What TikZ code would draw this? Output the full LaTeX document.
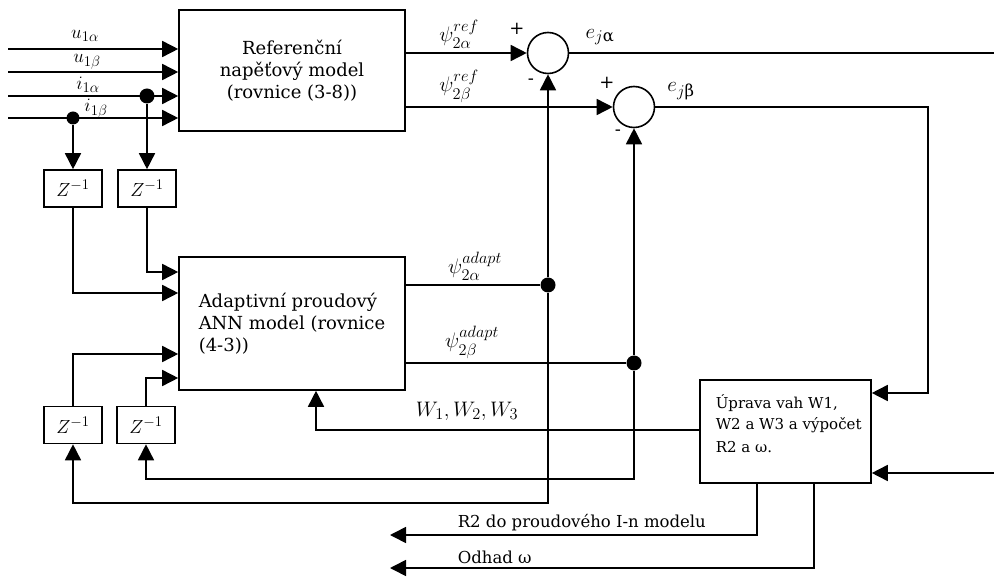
\RequirePackage{fix-cm}
\documentclass[tikz,border=0pt]{standalone}
\usepackage{amsmath}
\usepackage{fontspec}
\setmainfont{DejaVu Serif}
\renewcommand{\defaultscriptratio}{.78}
\usetikzlibrary{arrows.meta}

\begin{document}
\begin{tikzpicture}[x=1pt,y=-1pt,
  line width=1.6pt,
  arr/.style={-{Triangle[length=16pt,width=16pt]}},
  blk/.style={draw, rectangle, inner sep=0pt, font=\fontsize{18}{22}\selectfont},
  zbox/.style={draw, rectangle, inner sep=0pt, minimum width=58pt, minimum height=37pt, font=\fontsize{19}{22}\selectfont},
  sumc/.style={draw, circle, minimum size=41pt, inner sep=0pt},
  dot/.style={fill, circle, minimum size=15pt, inner sep=0pt},
  lbl/.style={inner sep=0pt, font=\fontsize{21}{22}\selectfont},
  inl/.style={inner sep=0pt, font=\fontsize{19}{22}\selectfont},
  sgn/.style={inner sep=0pt, font=\fontsize{18}{22}\selectfont},
  sml/.style={inner sep=0pt, font=\fontsize{16.5}{20}\selectfont},
  upt/.style={inner sep=0pt, anchor=base west, font=\fontsize{15}{19}\selectfont},
]
\useasboundingbox (0,0) rectangle (994,577);

% main blocks
\node[blk, minimum width=226pt, minimum height=121pt, align=center] (ref) at (292,70.5)
  {Referenční\\napěťový model\\(rovnice (3-8))};
\node[blk, minimum width=226pt, minimum height=133pt, align=left] (adapt) at (292,323.5)
  {Adaptivní proudový\\ANN model (rovnice\\(4-3))};
\node[blk, minimum width=171pt, minimum height=103pt] (upr) at (785.5,431.5) {};
\node[upt] (ut1) at (715,409) {Úprava vah W1,};
\node[upt] (ut2) at (715,429) {W2 a W3 a výpočet};
\node[upt] (ut3) at (715,452) {R2 a ω.};

% delay blocks
\node[zbox] (z1) at (73,188.5) {$Z^{-1}$};
\node[zbox] (z2) at (147,188.5) {$Z^{-1}$};
\node[zbox] (z3) at (73,425) {$Z^{-1}$};
\node[zbox] (z4) at (146,425) {$Z^{-1}$};

% summing junctions
\node[sumc] (sum1) at (548,53) {};
\node[sumc] (sum2) at (634,107) {};

% inputs
\coordinate (in1) at (8,49);
\coordinate (in2) at (8,72);
\coordinate (in3) at (8,96);
\coordinate (in4) at (8,118);
\draw[arr] (in1) -- (in1 -| ref.west);
\draw[arr] (in2) -- (in2 -| ref.west);
\draw[arr] (in3) -- (in3 -| ref.west);
\draw[arr] (in4) -- (in4 -| ref.west);
\node[inl] (lu1a) at (85,36) {$u_{1\alpha}$};
\node[inl] (lu1b) at (87,62) {$u_{1\beta}$};
\node[inl] (li1a) at (88,85) {$i_{1\alpha}$};
\node[inl] (li1b) at (96,109) {$i_{1\beta}$};

% branch points of the currents
\node[dot] (d1) at (147,96) {};
\node[dot, minimum size=13pt] (d2) at (73,118) {};
\draw[arr] (d2) -- (z1.north);
\draw[arr] (d1) -- (z2.north);
\draw[arr] (z1.south) |- ([yshift=30.5pt]adapt.west);
\draw[arr] (z2.south) |- ([yshift=51.5pt]adapt.west);
\draw[arr] (z3.north) |- ([yshift=-30.5pt]adapt.west);
\draw[arr] (z4.north) |- ([yshift=-54.5pt]adapt.west);

% reference model outputs
\draw[arr] (ref.east |- sum1) -- (sum1.west);
\draw[arr] (ref.east |- sum2) -- (sum2.west);
\node[lbl] (lpra) at (459,34) {$\psi_{2\alpha}^{ref}$};
\node[lbl] (lprb) at (459,86) {$\psi_{2\beta}^{ref}$};
\node[sgn] (p1) at (517,29) {+};
\node[sgn] (m1) at (531,82) {-};
\node[sgn] (p2) at (607,83) {+};
\node[sgn] (m2) at (618,133) {-};

% adaptive model outputs
\node[dot] (da) at (548,285) {};
\node[dot] (db) at (634,363) {};
\draw (adapt.east |- da) -- (da);
\draw (adapt.east |- db) -- (db);
\node[lbl] (lpaa) at (475,266) {$\psi_{2\alpha}^{adapt}$};
\node[lbl] (lpab) at (472,342) {$\psi_{2\beta}^{adapt}$};
\draw[arr] (da) -- (sum1.south);
\draw[arr] (db) -- (sum2.south);
\coordinate (c1) at (548,503);
\coordinate (c2) at (634,479);
\draw[arr] (da) -- (c1) -| (z3.south);
\draw[arr] (db) -- (c2) -| (z4.south);

% errors
\coordinate (e1) at (994,53);
\draw (sum1.east) -- (e1);
\node[lbl] (lea) at (600,37) {$e_{j\text{α}}$};
\node[lbl] (leb) at (681,91) {$e_{j\text{β}}$};
\coordinate (c3) at (928,393);
\draw[arr] (sum2.east) -| (c3) -- (c3 -| upr.east);
\coordinate (e2) at (994,473);
\draw[arr] (e2) -- (e2 -| upr.east);

% weights back to the adaptive model
\coordinate (c4) at (316,430);
\draw[arr] (c4 -| upr.west) -- (c4) -- (c4 |- adapt.south);
\node[lbl] (lw) at (467,411) {$W_1, W_2, W_3$};

% estimated outputs
\coordinate (o1) at (390,535);
\coordinate (o2) at (390,568);
\draw[arr] ([xshift=-28.5pt]upr.south) |- (o1);
\draw[arr] ([xshift=28.5pt]upr.south) |- (o2);
\node[sml, anchor=base west] (lr2) at (457,527) {R2 do proudového I-n modelu};
\node[sml, anchor=base west] (lom) at (457,563) {Odhad ω};
\end{tikzpicture}
\end{document}
